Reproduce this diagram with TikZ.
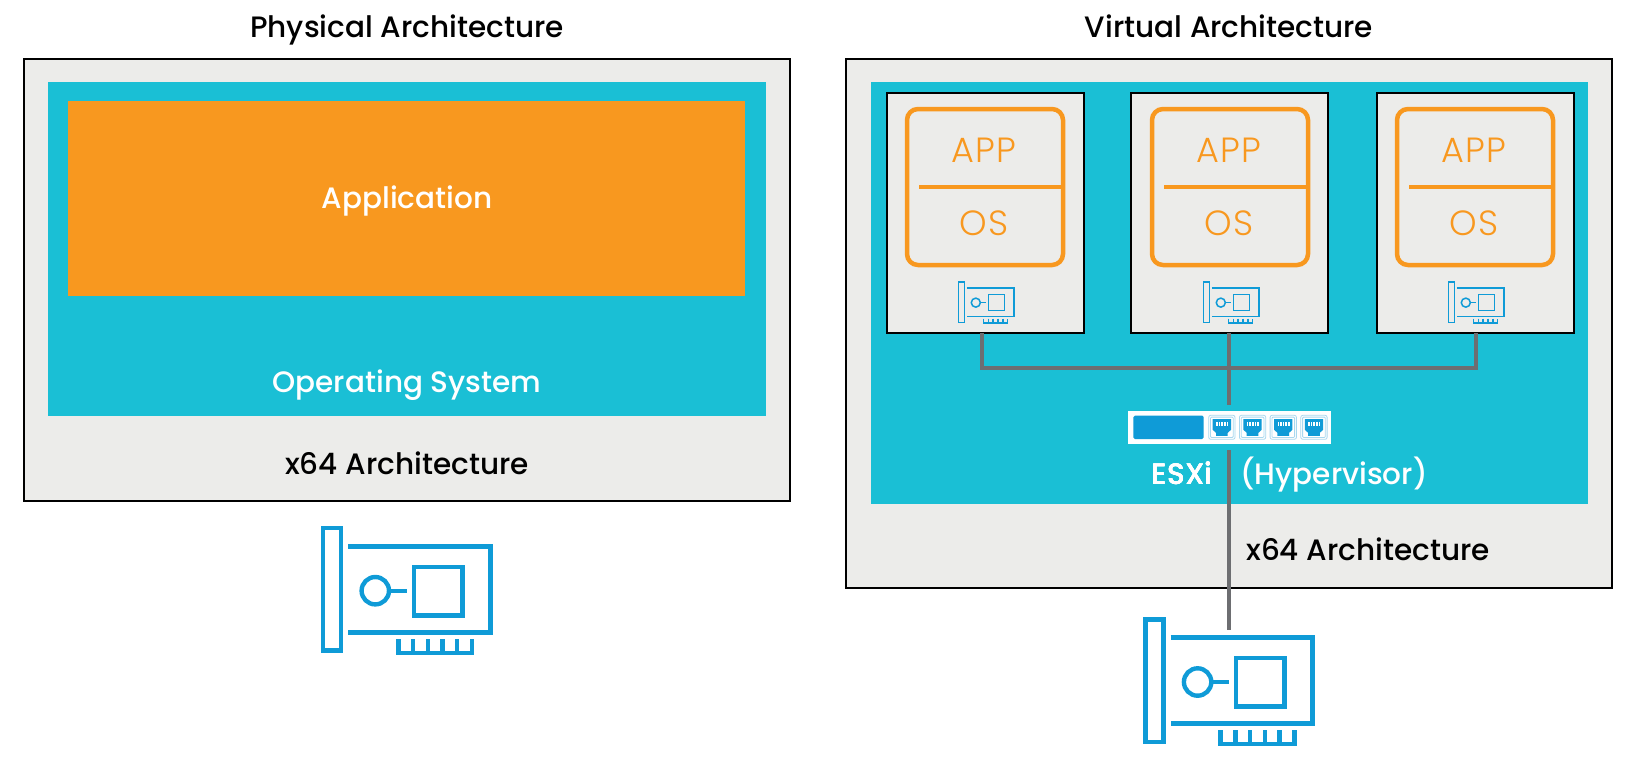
\documentclass[tikz,border=0pt]{standalone}
\usepackage{fontspec}
\setmainfont{Poppins Medium}
\newfontfamily\applight{Poppins Light}[LetterSpace=4]
\definecolor{boxGray}{HTML}{ECECEA}
\definecolor{hostTeal}{HTML}{1ABFD5}
\definecolor{appOrange}{HTML}{F8981F}
\definecolor{nicBlue}{HTML}{0F9BD7}
\definecolor{portPale}{HTML}{A9D8EF}
\definecolor{wireGray}{HTML}{6D6E71}
\tikzset{
  outerbox/.style={draw=black,fill=boxGray,line width=1.3pt,rectangle,anchor=north west,inner sep=0pt,outer sep=0pt},
  hostbox/.style={fill=hostTeal,rectangle,anchor=north west,inner sep=0pt,outer sep=0pt},
  vmbox/.style={draw=black,fill=boxGray,line width=1.5pt,rectangle,anchor=north west,inner sep=0pt,outer sep=0pt,minimum width=197,minimum height=240},
  title/.style={font=\fontsize{29.5}{32}\selectfont,text=black,anchor=base},
  label/.style={font=\fontsize{29.5}{32}\selectfont,text=white,anchor=base},
  applabel/.style={font=\applight\fontsize{35}{37}\selectfont,text=appOrange,anchor=base},
  wire/.style={draw=wireGray,line width=3.5pt},
}
% network card, w is the stroke width
\newcommand{\nicard}[4]{%
  \begin{scope}[shift={(#1,#2)},scale=#3,draw=nicBlue,line width=#4]
    \draw (0,0) rectangle (18,122.3);
    \draw (25.1,18.1) -- (167.1,18.1) -- (167.1,104.1) -- (25.1,104.1);
    \draw (90.5,38.5) rectangle (139.1,87.1);
    \draw (52.1,62.5) circle (13.7);
    \draw (65.8,62.5) -- (83.8,62.5);
    \draw (75.1,110.8) -- (75.1,124.5) -- (148.8,124.5) -- (148.8,110.8);
    \foreach \k in {1,...,4}
      \draw (75.1+14.74*\k,110.8) -- (75.1+14.74*\k,124.5);
  \end{scope}}
% one switch port
\newcommand{\swport}[2]{%
  \begin{scope}[shift={(#1,#2)}]
    \draw[portPale,line width=0.8pt,rounded corners=2] (0,0) rectangle (26.3,24);
    \draw[portPale,line width=0.8pt,rounded corners=1] (1.8,1.8) rectangle (24.5,22.2);
    \fill[nicBlue] (4,3.7) -- (22.3,3.7) -- (22.3,14.5) -- (19,17.5) -- (19,20.5) -- (7.3,20.5) -- (7.3,17.5) -- (4,14.5) -- cycle;
    \foreach \k in {0,...,4}
      \fill[white] (7.4+2.6*\k,6.5) rectangle (9+2.6*\k,10.5);
  \end{scope}}
\begin{document}
\begin{tikzpicture}[x=1pt,y=-1pt]
  \useasboundingbox (0,0) rectangle (1636,758);
  \node[title] (titleP) at (407,37) {Physical Architecture};
  \node[title] (titleV) at (1229,37) {Virtual Architecture};
  % left side
  \node[outerbox,minimum width=766,minimum height=442] (hwP) at (24,59) {};
  \node[hostbox,minimum width=718,minimum height=334] (osP) at (48,82) {};
  \node[hostbox,fill=appOrange,minimum width=677,minimum height=195] (appP) at (68,101) {};
  \node[label] (appTxt) at (407,208) {Application};
  \node[label] (osTxt) at (407,392) {Operating System};
  \node[title] (archP) at (407,474) {x64 Architecture};
  \nicard{323.2}{528.2}{1}{4.4pt}
  % right side
  \node[outerbox,minimum width=766,minimum height=529] (hwV) at (846,59) {};
  \node[hostbox,minimum width=717,minimum height=422] (esx) at (871,82) {};
  \node[vmbox] (vmA) at (887,93) {};
  \node[vmbox] (vmB) at (1131,93) {};
  \node[vmbox] (vmC) at (1377,93) {};
  \foreach \vm/\dx/\px in {vmA/0/982,vmB/245/1229,vmC/490/1476} {
    \draw[draw=appOrange,line width=4.5pt,rounded corners=11] (907+\dx,109) rectangle (1063+\dx,265);
    \draw[draw=appOrange,line width=4.5pt] (919+\dx,187) -- (1063+\dx,187);
    \node[applabel] (\vm app) at (984+\dx,162) {APP};
    \node[applabel] (\vm os) at (984+\dx,235) {OS};
    \nicard{958.6+\dx}{282}{0.33}{1.5pt}
    \coordinate (\vm port) at (\px,333);
  }
  \coordinate (busL) at (982,368);
  \coordinate (busR) at (1476,368);
  \node[rectangle,fill=white,anchor=north west,inner sep=0pt,outer sep=0pt,minimum width=202.4,minimum height=33.3] (sw) at (1128.3,410.7) {};
  \fill[nicBlue,rounded corners=1.5] (1133.3,415.7) rectangle (1203.7,439);
  \foreach \k in {0,...,3}
    \swport{1208.7+30.7*\k}{415.3}
  \node[label] (esxiTxt) at (1182,484) {ESXi};
  \node[label] (hypTxt) at (1334,484) {(Hypervisor)};
  \node[title] (archV) at (1368,560) {x64 Architecture};
  \coordinate (swTop) at (1229,405);
  \coordinate (swBot) at (1229,450);
  \coordinate (nicTop) at (1229,630);
  \draw[wire] (vmAport) -- (busL) -- (busR) -- (vmCport);
  \draw[wire] (vmBport) -- (swTop);
  \draw[wire] (swBot) -- (nicTop);
  \nicard{1145.5}{619.5}{1}{4.4pt}
\end{tikzpicture}
\end{document}
